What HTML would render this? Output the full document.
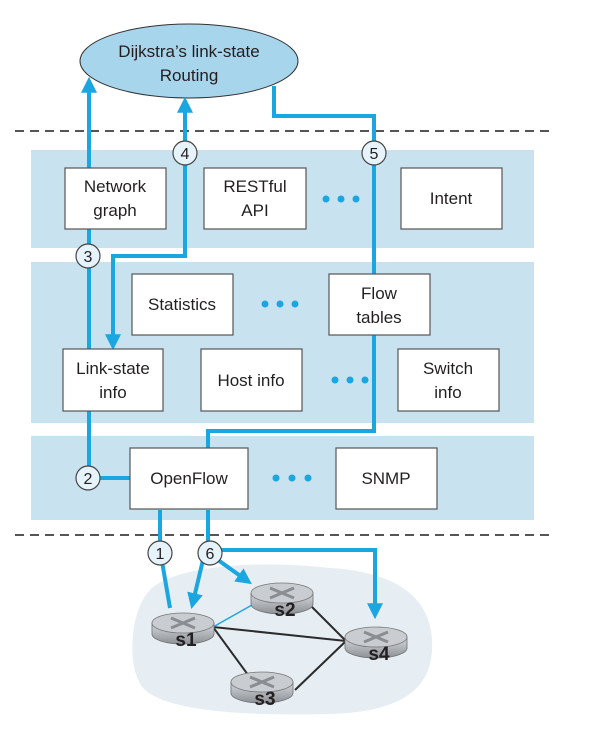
<!DOCTYPE html>
<html><head><meta charset="utf-8"><style>
html,body{margin:0;padding:0;background:#fff;}
svg{display:block;}
text{font-family:"Liberation Sans","DejaVu Sans",sans-serif;fill:#231f20;}
</style></head><body>
<svg width="591" height="737" viewBox="0 0 591 737" xmlns="http://www.w3.org/2000/svg">
<defs>
<marker id="ah" markerWidth="4" markerHeight="4" refX="2.2" refY="2" orient="auto" markerUnits="strokeWidth">
<path d="M0,0 L4,2 L0,4 z" fill="#1aa6e0"/></marker>
<linearGradient id="rb" x1="0" y1="0" x2="0" y2="1"><stop offset="0" stop-color="#d5d8dc"/><stop offset="1" stop-color="#8d9196"/></linearGradient>
<g id="router">
<path d="M-31,0 L-31,11 A31,10 0 0 0 31,11 L31,0 Z" fill="url(#rb)" stroke="#6d7176" stroke-width="0.8"/>
<ellipse cx="0" cy="0" rx="31" ry="10" fill="#c9ccd0" stroke="#777" stroke-width="0.8"/>
<path d="M-12,-5 L12,5 M-12,5 L12,-5" stroke="#8a8e93" stroke-width="3"/>
</g>
</defs>
<!-- cloud -->
<path d="M150,590 C175,565 260,560 330,568 C400,572 430,600 432,640 C435,690 400,712 330,714 C250,716 170,712 145,690 C125,670 130,610 150,590 Z" fill="#e6eef3"/>
<!-- dashed lines -->
<line x1="15" y1="131" x2="550" y2="131" stroke="#555" stroke-width="2" stroke-dasharray="9,6"/>
<line x1="15" y1="535" x2="550" y2="535" stroke="#555" stroke-width="2" stroke-dasharray="9,6"/>
<!-- bands -->
<rect x="31" y="150" width="503" height="98" fill="#c9e2ef"/>
<rect x="31" y="262" width="503" height="161" fill="#c9e2ef"/>
<rect x="31" y="436" width="503" height="84" fill="#c9e2ef"/>
<!-- ellipse -->
<ellipse cx="189" cy="61" rx="109" ry="37" fill="#a6d5ec" stroke="#333" stroke-width="1"/>
<text x="189" y="57" font-size="17" text-anchor="middle">Dijkstra’s link-state</text>
<text x="189" y="81" font-size="17" text-anchor="middle">Routing</text>
<!-- blue lines -->
<g stroke="#1aa6e0" stroke-width="4" fill="none">
<polyline points="89,478 89,84" marker-end="url(#ah)"/>
<polyline points="185,255 185,104" marker-end="url(#ah)"/>
<polyline points="185,165 185,256 113,256 113,343" marker-end="url(#ah)"/>
<polyline points="274,86 274,116 374,116 374,431 208,431 208,449"/>
<line x1="89" y1="478" x2="130" y2="478"/>
<polyline points="160,510 160,550 170,608"/>
<polyline points="208,510 208,550"/>
<line x1="203" y1="560" x2="193" y2="602" marker-end="url(#ah)"/>
<line x1="218" y1="560" x2="246" y2="580" marker-end="url(#ah)"/>
<polyline points="215,550 375,550 375,612" marker-end="url(#ah)"/>
</g>
<!-- boxes -->
<g fill="#fff" stroke="#555" stroke-width="1.2">
<rect x="65" y="168" width="101" height="61"/>
<rect x="204" y="168" width="102" height="61"/>
<rect x="401" y="168" width="101" height="61"/>
<rect x="132" y="274" width="101" height="61"/>
<rect x="329" y="274" width="101" height="61"/>
<rect x="63" y="349" width="100" height="62"/>
<rect x="201" y="349" width="101" height="62"/>
<rect x="398" y="349" width="101" height="62"/>
<rect x="130" y="448" width="118" height="61"/>
<rect x="336" y="448" width="101" height="61"/>
</g>
<g font-size="17" text-anchor="middle">
<text x="115" y="192">Network</text><text x="115" y="216">graph</text>
<text x="255" y="192">RESTful</text><text x="255" y="216">API</text>
<text x="451" y="204">Intent</text>
<text x="182" y="310">Statistics</text>
<text x="379" y="299">Flow</text><text x="379" y="323">tables</text>
<text x="113" y="374">Link-state</text><text x="113" y="398">info</text>
<text x="251" y="386">Host info</text>
<text x="448" y="374">Switch</text><text x="448" y="398">info</text>
<text x="189" y="484">OpenFlow</text>
<text x="386" y="484">SNMP</text>
</g>
<!-- dots -->
<g fill="#1aa6e0">
<circle cx="326" cy="199" r="3.5"/><circle cx="341" cy="199" r="3.5"/><circle cx="356" cy="199" r="3.5"/>
<circle cx="265" cy="304" r="3.5"/><circle cx="280" cy="304" r="3.5"/><circle cx="295" cy="304" r="3.5"/>
<circle cx="335" cy="380" r="3.5"/><circle cx="350" cy="380" r="3.5"/><circle cx="365" cy="380" r="3.5"/>
<circle cx="276" cy="478" r="3.5"/><circle cx="292" cy="478" r="3.5"/><circle cx="308" cy="478" r="3.5"/>
</g>
<!-- numbered circles -->
<g fill="#e6f3fa" stroke="#444" stroke-width="1.2">
<circle cx="185" cy="153" r="12"/><circle cx="374" cy="153" r="12"/>
<circle cx="88" cy="256" r="12"/><circle cx="88" cy="478" r="12"/>
<circle cx="160" cy="553" r="12"/><circle cx="210" cy="553" r="12"/>
</g>
<g font-size="16" text-anchor="middle">
<text x="185" y="159">4</text><text x="374" y="159">5</text>
<text x="88" y="262">3</text><text x="88" y="484">2</text>
<text x="160" y="559">1</text><text x="210" y="559">6</text>
</g>
<!-- network links -->
<g stroke="#2b2b2b" stroke-width="2">
<line x1="213" y1="627" x2="262" y2="694"/>
<line x1="213" y1="627" x2="346" y2="641"/>
<line x1="310" y1="605" x2="346" y2="641"/>
<line x1="295" y1="690" x2="346" y2="641"/>
</g>
<line x1="213" y1="627" x2="252" y2="605" stroke="#1aa6e0" stroke-width="1.5"/>
<use href="#router" x="183" y="623"/>
<use href="#router" x="282" y="593"/>
<use href="#router" x="262" y="682"/>
<use href="#router" x="376" y="637"/>
<g font-size="19" font-weight="bold" text-anchor="middle">
<text x="186" y="646">s1</text><text x="285" y="616">s2</text>
<text x="265" y="705">s3</text><text x="379" y="660">s4</text>
</g>
</svg>
</body></html>
